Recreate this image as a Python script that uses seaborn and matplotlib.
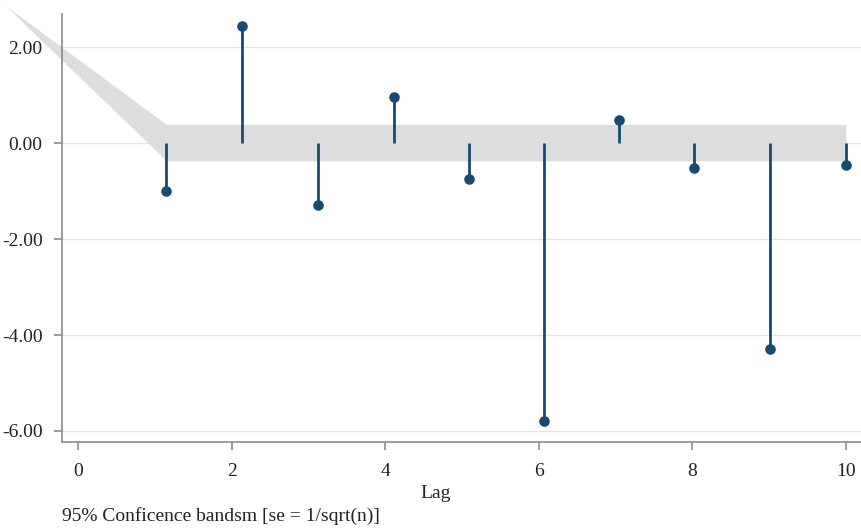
import matplotlib
matplotlib.use("Agg")
import matplotlib.pyplot as plt
import seaborn as sns
import numpy as np
import pandas as pd

# Partial autocorrelations by lag
lags = [1.15, 2.13, 3.13, 4.11, 5.09, 6.07, 7.05, 8.03, 9.02, 10.01]
pac = [-1.00, 2.44, -1.29, 0.96, -0.75, -5.79, 0.48, -0.52, -4.29, -0.46]

# 95% confidence band outline
band_x = [-0.95, 1.15, 10.0]
band_upper = [2.87, 0.39, 0.39]
band_lower = [2.87, -0.37, -0.37]

x_ticks = [0, 2, 4, 6, 8, 10]
y_ticks = [-6, -4, -2, 0, 2]

sns.set_theme(style="white")
plt.rcParams["font.family"] = ["Liberation Serif", "DejaVu Serif"]

fig = plt.figure(figsize=(8.61, 5.28), dpi=100)
ax = fig.add_axes([62 / 861, 1 - 442 / 528, (861 - 62) / 861, (442 - 14) / 528])

stem_color = "#1a4a6e"
df = pd.DataFrame({"lag": lags, "pac": pac})

ax.fill_between(band_x, band_lower, band_upper, color="#dcdddf", lw=0,
                zorder=1, clip_on=False)
ax.vlines(df["lag"], 0, df["pac"], color=stem_color, lw=2, zorder=3)
sns.scatterplot(data=df, x="lag", y="pac", ax=ax, color=stem_color, s=58,
                edgecolor=stem_color, linewidth=0, zorder=4)

ax.set_xlim(-0.21, 10.2)
ax.set_ylim(-6.23, 2.69)
ax.set_xticks(x_ticks)
ax.set_xticklabels([str(t) for t in x_ticks])
ax.set_yticks(y_ticks)
ax.set_yticklabels([f"{t:.2f}" for t in y_ticks])
ax.yaxis.grid(True, color="#e3e3e3", lw=1, zorder=0)
ax.set_axisbelow(True)

for side in ["top", "right"]:
    ax.spines[side].set_visible(False)
for side in ["left", "bottom"]:
    ax.spines[side].set_color("#8c8c8c")
    ax.spines[side].set_linewidth(1.2)

ax.tick_params(axis="both", which="both", direction="out", length=6,
               width=1.2, color="#8c8c8c", labelsize=14, labelcolor="#222222",
               pad=8, bottom=True, left=True)
ax.tick_params(axis="x", pad=9)

ax.set_xlabel("Lag", fontsize=14, color="#222222")
ax.xaxis.set_label_coords((436 - 62) / (861 - 62), -0.1)
ax.set_ylabel("")

fig.text(62 / 861, 1 - 516 / 528, "95% Conficence bandsm [se = 1/sqrt(n)]",
         fontsize=14, color="#222222", ha="left", va="center")

fig.savefig("out.png", dpi=100)
